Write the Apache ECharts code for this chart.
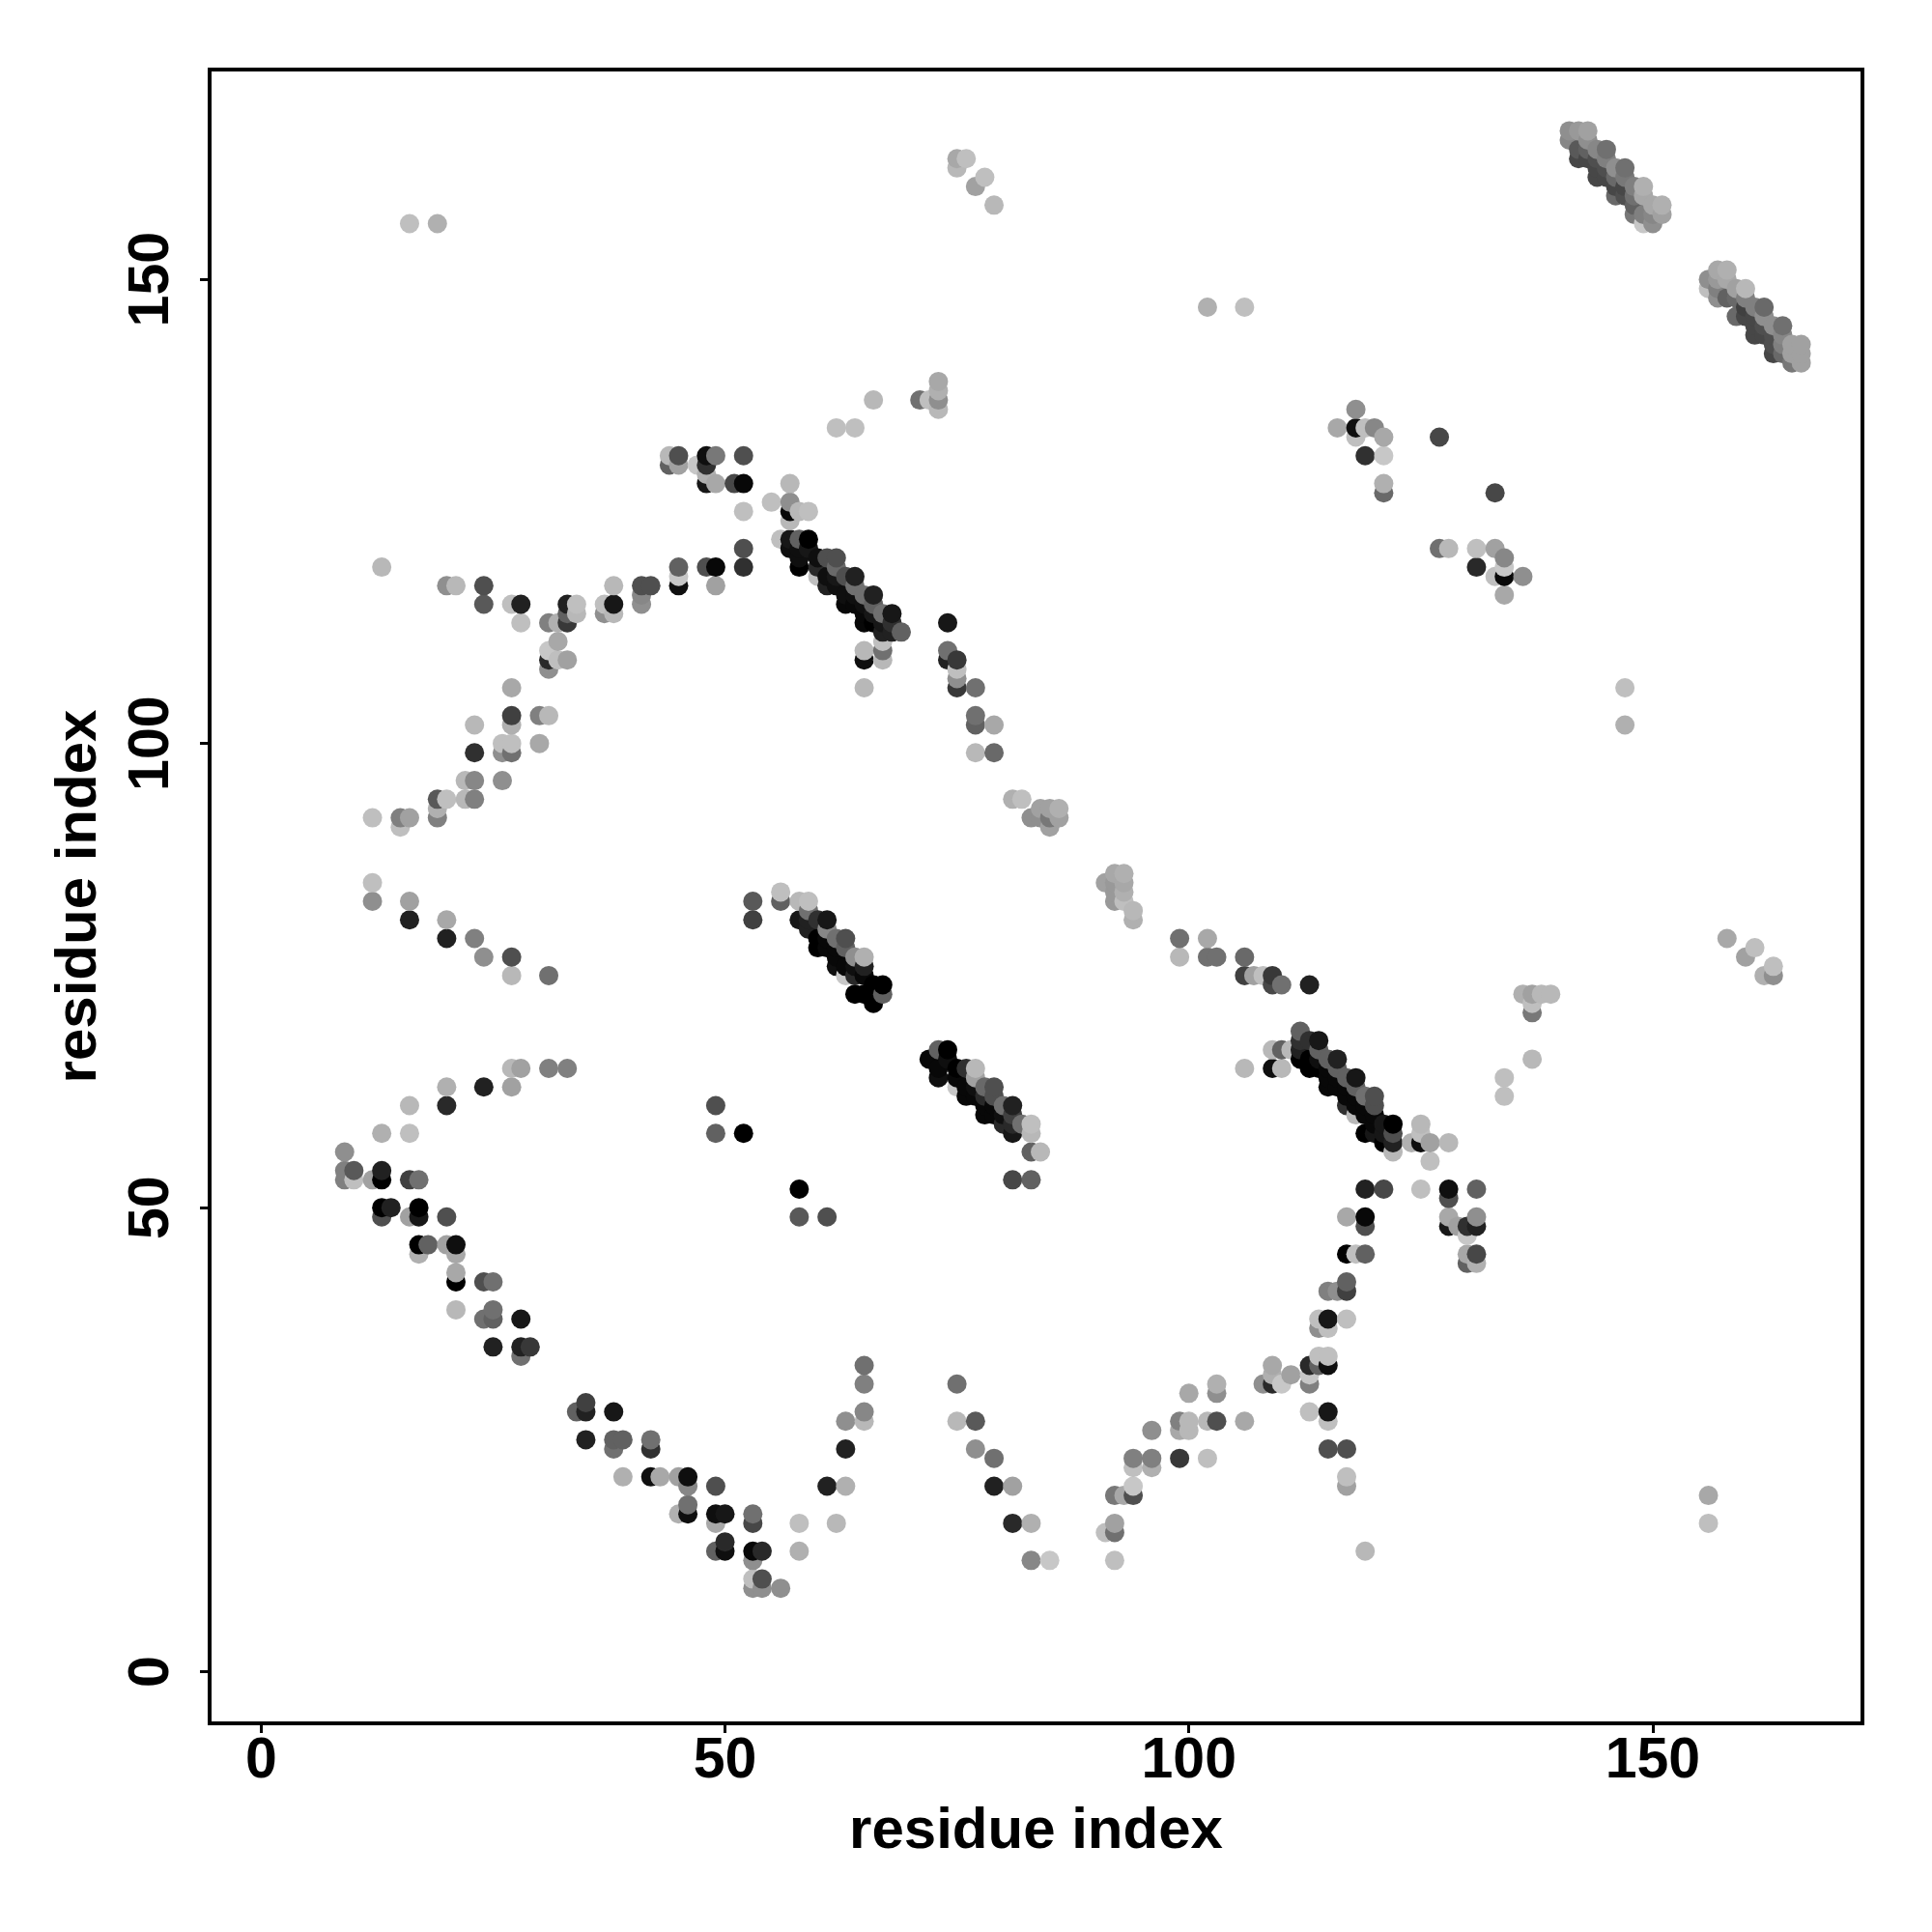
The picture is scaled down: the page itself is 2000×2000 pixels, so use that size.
<!DOCTYPE html>
<html><head><meta charset="utf-8">
<script src="https://cdn.jsdelivr.net/npm/echarts@6/dist/echarts.min.js"></script>
<style>html,body{margin:0;padding:0;background:#fff}#c{width:2000px;height:2000px}</style>
</head><body><div id="c"></div>
<script>
// each contact: [residue i, residue j, contact strength in percent]
const tickValues = [0, 50, 100, 150];
const axisTitle = 'residue index';
const lowerLeftArc = [[9,56,44],[9,54,50],[9,53,50],[10,54,65],[10,53,25],[12,53,37],[13,54,87],[13,53,100],[13,50,100],[14,50,87],[13,49,69],[16,53,75],[17,53,56],[16,49,37],[17,50,100],[17,49,91],[20,49,69],[17,46,100],[18,46,62],[20,46,37],[21,46,94],[21,45,34],[17,45,31],[21,43,34],[21,42,100],[24,42,69],[25,42,56],[25,39,56],[21,39,28],[24,38,56],[25,38,62],[28,38,91],[25,35,87],[28,35,87],[29,35,78],[28,34,56]];
const bottomArc = [[34,28,62],[35,28,87],[35,29,75],[38,28,91],[35,25,87],[38,25,62],[39,25,62],[38,24,56],[42,25,56],[42,24,81],[39,21,31],[42,21,94],[43,21,34],[45,21,37],[46,21,94],[46,20,47],[49,20,69],[45,17,31],[46,17,94],[46,18,56],[49,17,94],[50,17,91],[49,16,34],[53,17,56],[53,16,72],[49,13,62],[50,13,94],[50,14,84],[53,13,97],[54,13,84],[53,12,44],[53,10,25],[54,10,69],[53,9,44],[54,9,44],[56,9,44],[58,16,25],[58,13,31],[62,16,28],[61,20,87],[63,20,31],[63,24,87],[63,27,44],[65,27,28],[65,28,47],[65,31,50],[65,33,56],[75,31,56],[75,27,28],[77,27,65],[77,24,44],[79,23,56],[79,20,87],[81,20,37],[81,16,84],[83,16,31],[83,12,47],[85,12,22]];
const lowerRightArc = [[91,15,25],[92,15,56],[92,16,37],[92,12,25],[92,19,53],[93,19,34],[94,19,69],[94,20,22],[94,22,25],[94,23,50],[96,22,31],[96,23,50],[96,26,44],[99,23,78],[99,26,34],[99,27,50],[100,26,28],[100,27,28],[100,30,34],[102,23,25],[102,27,28],[103,27,69],[103,30,44],[103,31,31],[106,27,34],[108,31,44],[109,31,84],[109,32,31],[109,33,34],[110,31,22],[111,32,37],[113,31,50],[113,32,22],[113,33,84],[114,33,62],[115,33,94],[114,34,25],[115,34,25],[113,28,25],[115,28,91],[115,27,25],[115,24,69],[117,24,69],[117,21,25],[117,20,37],[119,13,28],[117,38,25],[115,38,91],[114,38,25],[114,37,44],[115,37,25],[115,41,50],[116,41,44],[117,41,75],[117,42,62],[117,45,100],[118,45,25],[119,45,62],[117,49,34],[119,49,97],[119,48,69],[119,52,87],[121,52,72],[125,52,25],[128,52,94],[128,51,69],[128,49,34],[128,48,91],[129,48,37],[130,48,81],[131,48,87],[131,49,44],[131,52,62],[130,47,22],[130,45,34],[130,44,62],[131,45,72],[131,44,31]];
const sparseContacts = [[156,19,34],[156,16,25],[137,66,28],[134,64,25],[134,62,25],[137,71,53],[137,72,25],[136,73,31],[137,73,37],[138,73,28],[139,73,28],[162,75,31],[163,75,44],[163,76,25],[158,79,34],[161,78,25],[160,77,37],[106,75,75],[107,75,37],[108,75,25],[109,75,78],[109,74,72],[110,74,56],[113,74,87],[99,79,56],[102,79,34],[99,77,28],[102,77,56],[103,77,56],[106,77,59],[106,65,28],[49,61,69],[49,58,62],[52,58,100],[58,52,100],[58,49,65],[61,49,69],[16,156,25],[19,156,31],[13,119,28],[147,106,25],[147,102,31],[102,147,31],[106,147,25],[75,163,34],[75,162,28],[76,163,25],[77,160,37],[78,161,25],[79,158,28]];
const centralBand = [[109,67,28],[110,67,62],[111,67,28],[109,65,94],[110,65,28],[112,69,62],[112,68,81],[112,67,87],[113,68,81],[114,68,91],[113,65,100],[112,66,100],[116,66,87],[118,64,91],[120,62,69],[120,61,69],[122,59,100],[122,58,69],[122,57,87],[122,56,28],[119,58,100],[121,57,100],[117,61,81],[118,60,28],[115,63,97],[114,67,62],[115,66,62],[116,65,62],[117,64,62],[118,63,62],[119,62,56],[113,66,100],[114,65,100],[115,64,97],[116,63,97],[117,62,97],[118,61,97],[119,60,97],[120,59,97],[114,66,94],[115,65,97],[116,64,97],[117,63,97],[118,62,97],[119,61,97],[120,60,97],[121,59,91],[121,58,91],[120,58,91],[124,57,31],[125,57,94],[125,59,28],[125,58,25],[126,57,37],[128,57,28],[126,55,25]];
const midBand = [[72,66,97],[73,67,62],[74,67,100],[73,64,94],[74,66,94],[73,65,97],[75,65,100],[76,65,81],[77,65,28],[77,64,37],[78,63,59],[79,63,69],[78,62,84],[80,61,56],[81,61,87],[81,60,75],[82,59,56],[83,59,25],[83,58,28],[83,56,62],[84,56,28],[81,53,72],[83,53,62],[75,63,22],[76,62,97],[75,64,97],[78,60,97],[80,59,84],[81,58,91],[81,59,84],[79,60,97],[77,62,97],[76,63,97],[77,63,94],[78,61,97],[79,61,97],[80,60,94],[79,62,69]];
const leftBand = [[53,83,65],[53,81,75],[56,83,62],[56,84,25],[58,83,28],[59,83,25],[59,82,56],[58,81,91],[59,81,87],[59,80,87],[60,81,81],[61,81,91],[61,80,47],[60,78,100],[60,79,100],[61,79,97],[62,79,56],[63,79,69],[63,78,62],[62,76,94],[64,77,44],[65,77,31],[65,76,87],[62,77,97],[63,76,97],[61,78,97],[62,78,97],[64,76,94],[63,75,22],[64,75,84],[65,75,97],[66,74,100],[67,74,100],[67,73,62],[64,73,100],[65,73,100],[66,72,100],[66,73,100]];
const upperBand = [[57,128,28],[55,126,25],[57,126,44],[57,125,97],[57,124,28],[58,125,28],[59,125,25],[56,122,25],[57,122,91],[58,122,62],[59,122,100],[57,121,94],[58,121,94],[59,121,91],[58,119,100],[58,120,94],[60,120,94],[61,120,69],[62,120,69],[60,119,84],[62,119,59],[60,118,25],[61,118,94],[61,117,87],[63,118,69],[64,118,87],[64,117,56],[65,116,56],[66,116,87],[66,115,62],[67,114,56],[68,114,91],[68,113,81],[69,112,62],[67,112,87],[68,112,87],[63,115,97],[65,113,97],[66,113,100],[63,116,94],[62,117,94],[62,118,91],[64,116,94],[64,115,97],[65,115,94],[65,114,97],[66,114,91],[67,113,91],[67,111,25],[67,110,56],[67,109,28],[65,110,28],[65,109,94],[65,106,28]];
const upperLeftArc = [[20,117,44],[21,117,28],[24,117,69],[24,115,65],[27,115,25],[28,115,87],[28,113,25],[31,113,50],[32,113,31],[33,113,78],[33,115,87],[33,114,62],[34,115,25],[34,114,28],[32,111,34],[31,110,22],[31,109,84],[32,109,25],[33,109,37],[31,108,44],[27,106,34],[27,103,75],[27,102,31],[30,103,50],[31,103,28],[30,100,34],[23,102,28],[26,100,25],[27,100,25],[26,99,44],[27,99,56],[23,99,81],[22,96,28],[23,96,47],[26,96,44],[22,94,28],[23,94,50],[19,94,65],[20,94,25],[19,93,31],[19,92,50],[12,92,25],[15,92,50],[16,92,37],[15,91,25],[37,114,44],[38,117,28],[37,115,25],[38,115,91],[38,114,28],[41,117,69],[42,117,69],[41,116,47],[41,115,44],[45,119,62],[45,118,22],[45,117,94],[48,119,69],[49,119,97],[49,117,37],[52,121,69],[52,119,81],[52,125,25],[44,131,28],[45,131,69],[44,130,62],[45,130,37],[47,130,22],[48,131,94],[49,131,53],[48,130,81],[48,129,31],[48,128,91],[49,128,34],[51,128,72],[52,128,97],[52,131,69],[62,134,25],[64,134,25],[66,137,28],[71,137,56],[72,137,25],[73,136,28],[73,137,44],[73,138,31],[73,139,34]];
const centralArc = [[74,113,91],[74,110,56],[74,109,87],[75,109,78],[75,108,25],[75,107,44],[75,106,78],[77,106,56],[77,103,56],[77,102,62],[79,102,34],[77,99,28],[79,99,59],[81,94,31],[82,94,25],[83,92,44],[84,93,37],[84,92,44],[85,93,37],[85,92,53],[85,91,37],[86,93,31],[86,92,37],[91,85,37],[92,86,34],[93,86,31],[92,85,40],[93,85,34],[92,84,40],[93,84,31],[92,83,40],[93,83,25],[94,82,28],[94,81,31],[12,85,25],[12,83,44],[16,83,37],[16,81,87],[20,81,34],[20,79,87],[23,79,50],[24,77,44],[27,77,69],[27,75,28],[31,75,56],[20,63,31],[20,61,84],[16,61,28],[13,58,31],[16,58,25],[24,63,87],[27,63,37],[27,65,28],[28,65,37],[31,65,50],[33,65,50]];
const upperRightContacts = [[118,136,44],[116,134,34],[118,134,94],[119,134,25],[120,134,47],[118,133,25],[121,133,34],[119,131,81],[121,131,22],[121,128,31],[121,127,59],[127,133,72],[133,127,72],[127,121,56],[128,121,28],[131,121,25],[133,121,37],[134,120,47],[131,119,84],[133,118,25],[134,118,97],[134,119,22],[136,118,44],[134,116,34]];
const cornerBandA = [[141,166,44],[142,166,40],[143,166,37],[141,165,47],[142,164,65],[142,163,72],[143,165,44],[144,164,47],[145,164,56],[144,161,72],[143,163,72],[144,162,72],[145,162,69],[146,162,44],[147,162,56],[146,159,59],[147,160,72],[148,160,50],[149,160,31],[149,159,34],[150,158,34],[151,158,31],[151,157,37],[150,157,47],[148,157,53],[149,156,22],[150,156,44],[149,157,50],[148,158,62],[147,159,69],[146,160,72],[145,161,72],[144,163,69],[147,161,53],[146,161,59],[145,163,50],[148,159,56],[143,164,62]];
const cornerBandB = [[156,150,44],[156,149,25],[157,151,34],[158,151,31],[157,150,40],[157,149,50],[157,148,44],[158,150,34],[159,149,37],[160,149,28],[158,148,62],[159,148,59],[160,148,50],[161,147,50],[162,147,59],[159,146,59],[160,147,75],[161,146,72],[161,144,72],[162,146,44],[163,145,44],[164,145,56],[162,144,72],[163,144,69],[164,144,47],[163,142,72],[164,142,59],[165,143,37],[166,143,37],[165,142,37],[166,142,37],[165,141,53],[166,141,37],[160,146,72],[161,145,72],[162,145,69],[163,143,69],[164,143,50]];

// the original draws in order of i, then j, so later points sit on top
const contacts = [].concat(lowerLeftArc, bottomArc, lowerRightArc, sparseContacts, centralBand, midBand, leftBand, upperBand, upperLeftArc, centralArc, upperRightContacts, cornerBandA, cornerBandB)
  .sort((a, b) => a[0] - b[0] || a[1] - b[1]);

const font = '"Liberation Sans", Arial, sans-serif';
function gray(p) { const g = Math.round(255 * (1 - p / 100)); return 'rgb(' + g + ',' + g + ',' + g + ')'; }

const chart = echarts.init(document.getElementById('c'), null, { renderer: 'canvas' });
function axis(extra) {
  return Object.assign({
    type: 'value', min: -5.55, max: 172.6,
    name: axisTitle, nameLocation: 'middle',
    nameTextStyle: { fontFamily: font, fontWeight: 'bold', fontSize: 60, color: '#000' },
    splitLine: { show: false },
    axisLine: { show: false, onZero: false },
    axisTick: { show: true, length: 10, inside: false, customValues: tickValues, lineStyle: { color: '#000', width: 3 } }
  }, extra);
}
chart.setOption({
  animation: false,
  backgroundColor: '#fff',
  grid: { left: 217, right: 72, top: 72, bottom: 216, show: true, borderColor: '#000', borderWidth: 4, backgroundColor: 'transparent' },
  xAxis: axis({
    nameGap: 82,
    axisLabel: { customValues: tickValues, fontFamily: font, fontWeight: 'bold', fontSize: 59, color: '#000', margin: 10 }
  }),
  yAxis: axis({
    nameGap: 105, nameRotate: 90,
    axisLabel: { customValues: tickValues, rotate: 90, fontFamily: font, fontWeight: 'bold', fontSize: 59, color: '#000', margin: 30, align: 'center', verticalAlign: 'bottom' }
  }),
  series: [{
    type: 'scatter', data: contacts, symbol: 'circle', symbolSize: 20, large: false,
    encode: { x: 0, y: 1 },
    itemStyle: { opacity: 1, color: p => gray(p.value[2]) },
    silent: true
  }]
});
</script></body></html>
